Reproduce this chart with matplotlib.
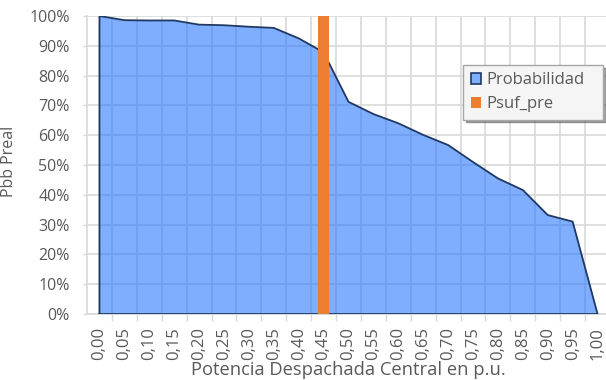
import numpy as np
import matplotlib
matplotlib.use("Agg")
import matplotlib.pyplot as plt
from matplotlib.patches import Patch

categories = ["0,00", "0,05", "0,10", "0,15", "0,20", "0,25", "0,30", "0,35", "0,40", "0,45",
              "0,50", "0,55", "0,60", "0,65", "0,70", "0,75", "0,80", "0,85", "0,90", "0,95", "1,00"]
probabilidad = [100, 98.6, 98.5, 98.5, 97.1, 96.9, 96.4, 96.0, 92.5, 87.8,
                71.2, 67.1, 64.0, 60.1, 56.7, 51.0, 45.5, 41.6, 33.2, 31.0, 0]
psuf_cat = "0,45"
psuf_val = 100
yticks = [0, 10, 20, 30, 40, 50, 60, 70, 80, 90, 100]

TXT = "#595959"
GRID = "#d9d9d9"
plt.rcParams["font.family"] = ["Open Sans", "DejaVu Sans"]

W, H = 606, 380
fig = plt.figure(figsize=(W / 100, H / 100), dpi=100)
ax = fig.add_axes([87 / W, (H - 314) / H, 523 / W, 298 / H])

x = np.arange(len(categories))
y = np.array(probabilidad) / 100

# area with transparency so gridlines show through, then navy outline
ax.fill_between(x, 0, y, color=(40 / 255, 120 / 255, 253 / 255), alpha=0.6, lw=0, zorder=2)
ox = np.concatenate([[x[0]], x, [x[-1], x[0]]])
oy = np.concatenate([[0], y, [0, 0]])
ax.plot(ox, oy, color="#1f3864", lw=1.3, zorder=3)

ax.bar(categories.index(psuf_cat), psuf_val / 100, width=0.41, color="#ed7d31", zorder=4)

ax.set_xlim(-0.5, len(categories) - 0.5)
ax.set_ylim(0, 1)
ax.set_xticks(x)
ax.set_xticklabels(categories, rotation=90)
ax.set_xticks(np.arange(len(categories) - 1) + 0.5, minor=True)
ax.tick_params(axis="x", which="major", length=0, pad=9.5, labelsize=12, labelcolor=TXT)
ax.tick_params(axis="x", which="minor", length=5, color=GRID, width=1)
ax.set_yticks(np.array(yticks) / 100)
ax.set_yticklabels([f"{v}%" for v in yticks])
ax.tick_params(axis="y", length=3, color=GRID, width=1, pad=9.5, labelsize=11.5, labelcolor=TXT)

ax.grid(True, which="minor", axis="x", color=GRID, lw=1.2, zorder=0)
ax.grid(True, which="major", axis="y", color=GRID, lw=1.2, zorder=0)
ax.set_axisbelow(True)
for s in ["top", "right"]:
    ax.spines[s].set_visible(False)
for s in ["left", "bottom"]:
    ax.spines[s].set_color(GRID)
    ax.spines[s].set_linewidth(1.2)

fig.text(9.5 / W, 1 - 161 / H, "Pbb Preal", rotation=90, ha="center", va="center",
         fontsize=11.5, color=TXT)
fig.text(348 / W, 1 - 375 / H, "Potencia Despachada Central en p.u.", ha="center",
         va="baseline", fontsize=13.2, color=TXT)

handles = [Patch(facecolor="#7eaefe", edgecolor="#1f3864", lw=1.2, label="Probabilidad"),
           Patch(facecolor="#ed7d31", edgecolor="none", label="Psuf_pre")]
leg = fig.legend(handles=handles, loc="upper left",
                 bbox_to_anchor=(463 / W, 1 - 117 / H, 140 / W, 52 / H), mode="expand",
                 borderaxespad=0, fontsize=12, frameon=True, fancybox=False, shadow=True,
                 handlelength=0.65, handleheight=0.65, handletextpad=0.3,
                 borderpad=0.45, labelspacing=0.45, labelcolor=TXT)
leg.get_frame().set_edgecolor("#a6a6a6")
leg.get_frame().set_facecolor("#f5f5f5")

fig.savefig("out.png", dpi=100)
